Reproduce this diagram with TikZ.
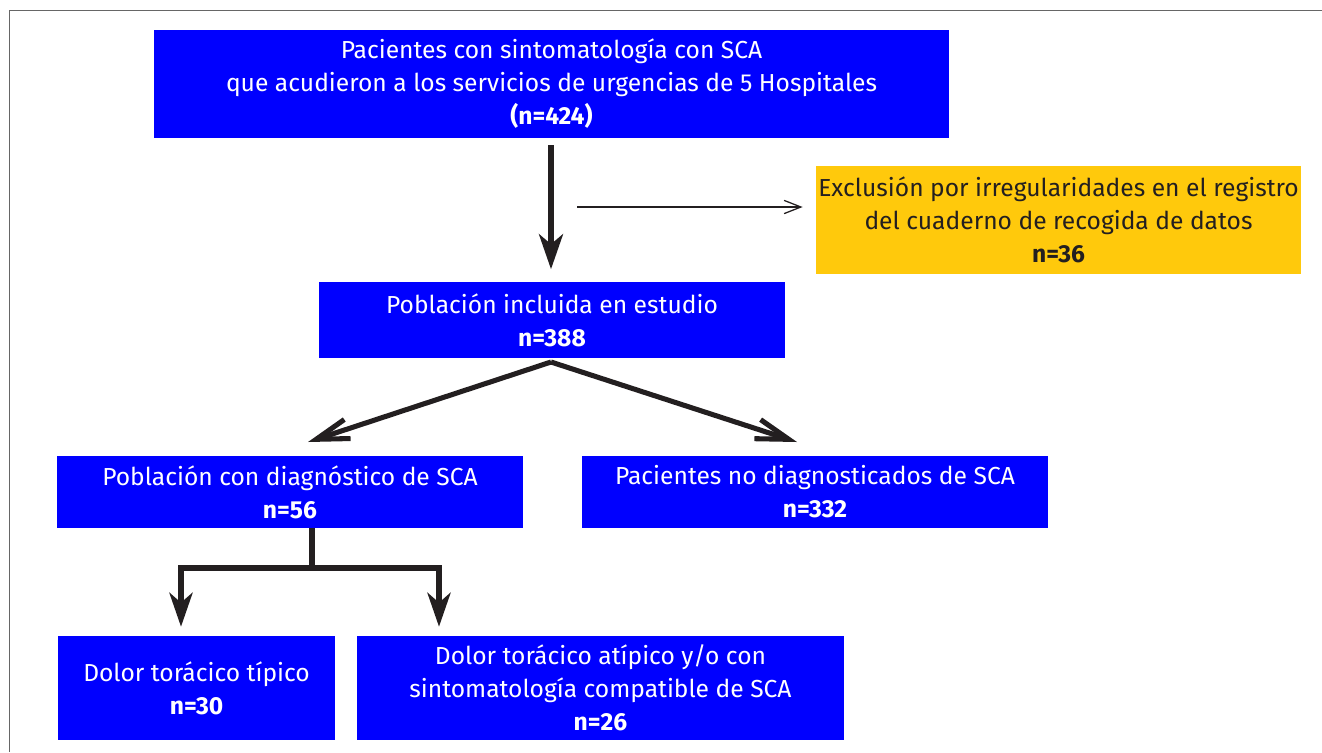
\documentclass[tikz,border=0pt]{standalone}
\usepackage{fontspec}
\setmainfont{Fira Sans}
\usetikzlibrary{arrows.meta}
\definecolor{boxblue}{HTML}{0000FF}
\definecolor{boxyellow}{HTML}{FFC90C}
\definecolor{ink}{HTML}{231F20}
\definecolor{framegray}{HTML}{666666}
\tikzset{
	flowbox/.style={fill=boxblue, text=white, align=center, inner sep=0pt, font=\fontsize{17.5}{23.5}\selectfont},
	exclbox/.style={flowbox, fill=boxyellow, text=ink},
	heavy/.style={draw=ink, line width=3.6pt, line join=miter},
	downarr/.style={heavy, -{Stealth[length=0.875cm, width=0.6cm, inset=0.25cm]}},
	barbarr/.style={heavy, -{Straight Barb[length=0.82cm, width=0.5cm]}},
	thinarr/.style={draw=ink, line width=0.9pt, -{Straight Barb[length=0.42cm, width=0.33cm]}}
}
\begin{document}
\begin{tikzpicture}[x=0.025cm, y=-0.025cm]
			\useasboundingbox (0,0) rectangle (1322,752);
			\draw[framegray, line width=1.2pt] (1322,10.5) -- (9.5,10.5) -- (9.5,752);
			\node[flowbox, minimum width=19.875cm, minimum height=2.7cm] (pac) at (551.5,84) {Pacientes con sintomatología con SCA\\que acudieron a los servicios de urgencias de 5 Hospitales\\\textbf{(n=424)}};
			\node[exclbox, minimum width=12.125cm, minimum height=2.7cm] (excl) at (1058.5,220) {Exclusión por irregularidades en el registro\\del cuaderno de recogida de datos\\\textbf{n=36}};
			\node[flowbox, minimum width=11.65cm, minimum height=1.875cm] (incl) at (552,320) {Población incluida en estudio\\\textbf{n=388}};
			\node[flowbox, minimum width=11.65cm, minimum height=1.8cm] (diag) at (290,492) {Población con diagnóstico de SCA\\\textbf{n=56}};
			\node[flowbox, minimum width=11.65cm, minimum height=1.8cm] (nodiag) at (815,492) {Pacientes no diagnosticados de SCA\\\textbf{n=332}};
			\node[flowbox, minimum width=6.925cm, minimum height=2.6cm] (tipico) at (196.5,688) {Dolor torácico típico\\\textbf{n=30}};
			\node[flowbox, minimum width=12.175cm, minimum height=2.6cm] (atipico) at (600.5,688) {Dolor torácico atípico y/o con\\sintomatología compatible de SCA\\\textbf{n=26}};
			\coordinate (exs) at (577,207);
			\coordinate (split) at (551,362);
			\coordinate (lefttip) at (308,442);
			\coordinate (righttip) at (797,442);
			\coordinate (forkl) at (181,568);
			\coordinate (forkm) at (312,568);
			\coordinate (forkr) at (439,568);
			\draw[downarr, shorten <=0.175cm, shorten >=0.325cm] (pac.south -| split) -- (incl.north -| split);
			\draw[thinarr, shorten >=0.325cm] (exs) -- (excl.west |- exs);
			\draw[barbarr] (split) -- (lefttip);
			\draw[barbarr] (split) -- (righttip);
			\draw[heavy] (diag.south -| forkm) -- (forkm);
			\draw[heavy, {Stealth[length=0.85cm, width=0.58cm, inset=0.25cm]}-{Stealth[length=0.85cm, width=0.58cm, inset=0.25cm]}, shorten <=0.225cm, shorten >=0.225cm] (tipico.north -| forkl) -- (forkl) -- (forkr) -- (atipico.north -| forkr);
		\end{tikzpicture}
\end{document}
